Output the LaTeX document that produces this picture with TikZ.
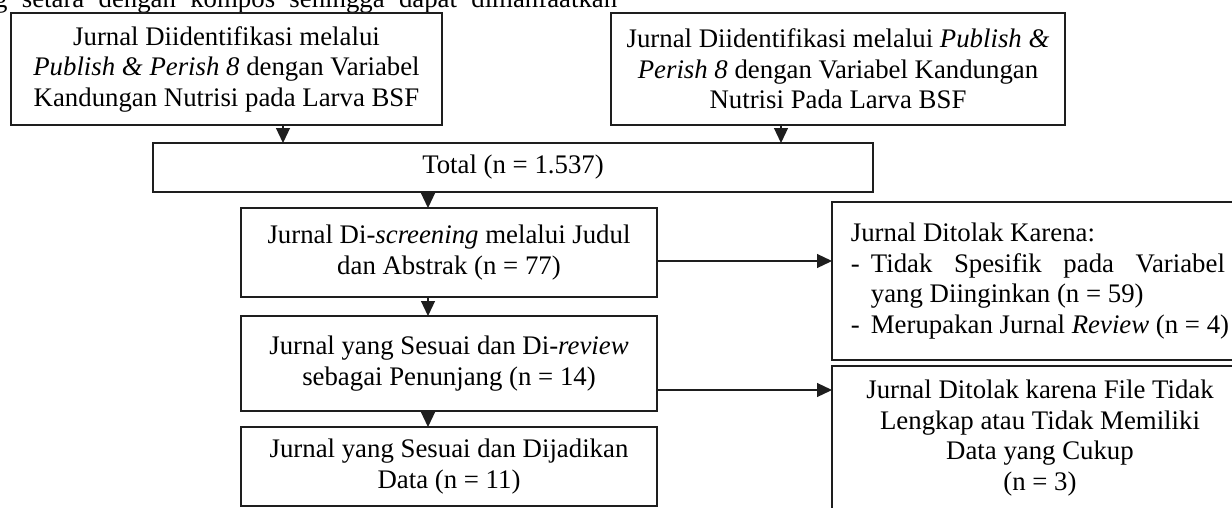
\documentclass[tikz,border=0pt]{standalone}
\usepackage{fontspec}
\setmainfont{Liberation Serif}
\usepackage{xcolor}
\usepackage{tikz}
\usetikzlibrary{arrows.meta,positioning,calc}
\definecolor{edge}{HTML}{1E1E1E}
\tikzset{box/.style={draw=edge,line width=1.2pt,fill=white,inner sep=0pt,outer sep=0pt,
  align=center,minimum width=416pt,font=\fontsize{26.8}{30.5}\selectfont},
  flow/.style={-{Triangle[length=15pt,width=14pt]},line width=1.2pt,draw=edge}}

\begin{document}
\begin{tikzpicture}[x=1pt,y=-1pt]
\useasboundingbox (0,0) rectangle (1232,507);
\clip (0,0) rectangle (1232,507);
% running text above the chart, cut by the page
\node[anchor=base west,inner sep=0pt,font=\fontsize{26.8}{30.5}\selectfont] (intro) at (-6,7)
  {\makebox[623pt][s]{g setara dengan kompos sehingga dapat dimanfaatkan}};
\node[box,minimum width=431pt,minimum height=112pt] (ident1) at (226.5,69) {Jurnal Diidentifikasi melalui\\\textit{Publish \& Perish 8} dengan Variabel\\Kandungan Nutrisi pada Larva BSF};
\node[box,minimum width=454pt,minimum height=112pt] (ident2) at (838,69) {Jurnal Diidentifikasi melalui \textit{Publish \&}\\\textit{Perish 8} dengan Variabel Kandungan\\Nutrisi Pada Larva BSF};
\node[box,minimum width=720pt,minimum height=49pt] (total) at (513,167.5) {Total (n = 1.537)};
\node[box,minimum height=89pt] (screen) at (449,252.5) {Jurnal Di-\textit{screening} melalui Judul\\dan Abstrak (n = 77)};
\node[box,minimum height=95pt,below=19pt of screen] (review) {Jurnal yang Sesuai dan Di-\textit{review}\\sebagai Penunjang (n = 14)};
\node[box,minimum height=79pt,below=16pt of review] (data) {Jurnal yang Sesuai dan Dijadikan\\Data (n = 11)};
\node[box,minimum height=158pt,anchor=north west,align=left] (tolak1) at (832,202) {Jurnal Ditolak Karena:\\\makebox[20pt][l]{-}\makebox[354pt][s]{Tidak Spesifik pada Variabel}\\\hspace*{20pt}yang Diinginkan (n = 59)\\\makebox[20pt][l]{-}Merupakan Jurnal \textit{Review} (n = 4)};
\node[box,minimum height=144pt,below=6pt of tolak1] (tolak2) {Jurnal Ditolak karena File Tidak\\Lengkap atau Tidak Memiliki\\Data yang Cukup\\(n = 3)};
% connectors
\draw[flow] ([xshift=56.5pt]ident1.south) -- ([xshift=56.5pt]ident1.south |- total.north);
\draw[flow] ([xshift=-57pt]ident2.south) -- ([xshift=-57pt]ident2.south |- total.north);
\draw[flow] ([xshift=-85pt]total.south) -- ([xshift=-85pt]total.south |- screen.north);
\draw[flow] ([xshift=-21pt]screen.south) -- ([xshift=-21pt]screen.south |- review.north);
\draw[flow] ([xshift=-21pt]review.south) -- ([xshift=-21pt]review.south |- data.north);
\draw[flow] ([yshift=-8.5pt]screen.east) -- ([yshift=-8.5pt]screen.east -| tolak1.west);
\draw[flow] ([yshift=-26.5pt]review.east) -- ([yshift=-26.5pt]review.east -| tolak2.west);
\end{tikzpicture}
\end{document}
